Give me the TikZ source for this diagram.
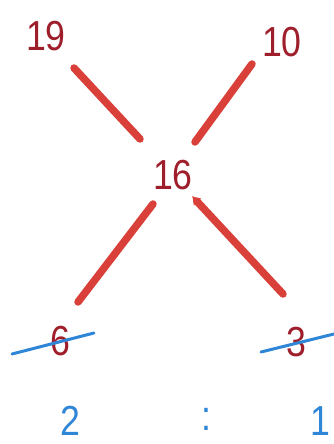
\documentclass[tikz,border=0pt]{standalone}
\usepackage{fontspec}
\setmainfont{Liberation Sans}
\usetikzlibrary{arrows.meta}
\definecolor{penred}{HTML}{D9403A}
\definecolor{inkred}{HTML}{9E1F2B}
\definecolor{penblue}{HTML}{2F86D6}
\begin{document}
\begin{tikzpicture}[x=1pt,y=-1pt,
  num/.style={text=inkred,font=\fontsize{42}{42}\selectfont,inner sep=0pt,xscale=0.85},
  ratio/.style={text=penblue,font=\fontsize{42}{42}\selectfont,inner sep=0pt,xscale=0.85},
  stroke/.style={draw=penred,line width=7.5pt,line cap=round},
  strike/.style={draw=penblue,line width=3pt,line cap=round}]
\useasboundingbox (0,0) rectangle (334,444);
\node[num] (n19) at (46,36) {19};
\node[num] (n10) at (282,42) {10};
\node[num] (n16) at (173,175) {16};
\node[num] (n6) at (60,341) {6};
\node[num] (n3) at (296,342) {3};
\node[ratio] (r2) at (70,421) {2};
\node[ratio] (rc) at (206,419) {:};
\node[ratio] (r1) at (320,421) {1};
% line end coordinates
\coordinate (a1) at (74,68);
\coordinate (a2) at (140,139);
\coordinate (b1) at (252,64);
\coordinate (b2) at (195,142);
\coordinate (c1) at (153,204);
\coordinate (c2) at (78,302);
\coordinate (d1) at (283,294);
\coordinate (d2) at (192,196);
\draw[stroke] (a1) -- (a2);
\draw[stroke] (b1) -- (b2);
\draw[stroke] (c1) -- (c2);
\draw[stroke,-{Latex[length=8pt,width=11pt]}] (d1) -- (d2);
% strike-through lines
\coordinate (s1) at (12,354);
\coordinate (s2) at (94,333);
\coordinate (t1) at (261,352);
\coordinate (t2) at (334,334);
\draw[strike] (s1) -- (s2);
\draw[strike] (t1) -- (t2);
\end{tikzpicture}
\end{document}
